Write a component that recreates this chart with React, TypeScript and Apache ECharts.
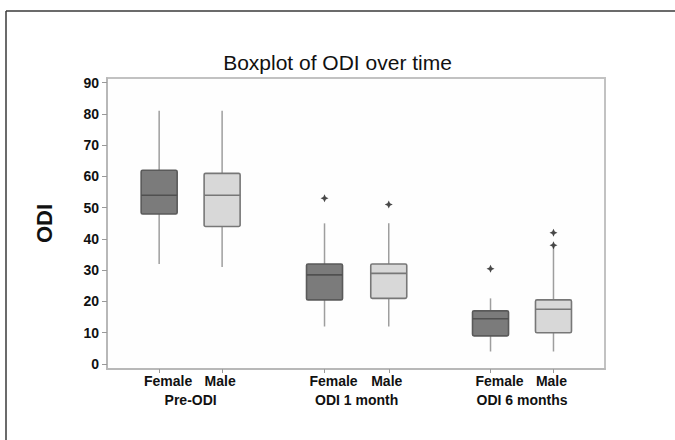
import React, { useEffect, useRef } from 'react';
import * as echarts from 'echarts';

const groupLabels = ['Pre-ODI', 'ODI 1 month', 'ODI 6 months'];
const sexLabels = ['Female', 'Male', 'Female', 'Male', 'Female', 'Male'];
const boxPositions = [0.82, 1.81, 3.42, 4.43, 6.03, 7.02];
const groupPositions = [1.315, 3.925, 6.525];
const whiskerLow = [32, 31, 12, 12, 4, 4];
const q1 = [48, 44, 20.5, 21, 9, 10];
const median = [54, 54, 28.5, 29, 14.5, 17.5];
const q3 = [62, 61, 32, 32, 17, 20.5];
const whiskerHigh = [81, 81, 45, 45, 21, 37.5];
const outlierX = [3.42, 4.43, 6.03, 7.02, 7.02];
const outlierY = [53, 51, 30.5, 42, 38];
const yTicks = [0, 10, 20, 30, 40, 50, 60, 70, 80, 90];

const FONT = '"Liberation Sans", Arial, Helvetica, sans-serif';
const X_MIN = 0;
const X_MAX = 7.83;

function findIndex(arr: number[], v: number) {
  for (let i = 0; i < arr.length; i++) if (Math.abs(arr[i] - v) < 1e-6) return i;
  return -1;
}

export default function App() {
  const ref = useRef<HTMLDivElement>(null);
  useEffect(() => {
    if (!ref.current) return;
    const chart = echarts.init(ref.current, undefined, { renderer: 'svg' });
    const boxData = boxPositions.map((x, i) => [x, whiskerLow[i], q1[i], median[i], q3[i], whiskerHigh[i], i % 2]);
    const outliers = outlierX.map((x, i) => [x, outlierY[i]]);
    chart.setOption({
      animation: false,
      backgroundColor: '#ffffff',
      title: {
        text: 'Boxplot of ODI over time',
        left: 'center',
        top: 47,
        textStyle: { fontFamily: FONT, fontSize: 21, fontWeight: 'normal', color: '#111' },
      },
      graphic: [
        {
          type: 'line',
          shape: { x1: 6, y1: 11, x2: 675, y2: 11 },
          style: { stroke: '#3a3a3a', lineWidth: 1.5 },
          silent: true,
        },
        {
          type: 'line',
          shape: { x1: 6, y1: 11, x2: 6, y2: 440 },
          style: { stroke: '#3a3a3a', lineWidth: 1.5 },
          silent: true,
        },
      ],
      grid: {
        left: 107,
        top: 78,
        right: 70,
        bottom: 71,
        show: true,
        borderColor: '#c2c2c2',
        borderWidth: 2,
        backgroundColor: '#fefefe',
      },
      xAxis: [
        {
          type: 'value',
          min: X_MIN,
          max: X_MAX,
          position: 'bottom',
          axisLine: { show: true, onZero: false, lineStyle: { color: '#b8b8b8', width: 2 } },
          axisTick: { show: true, length: 4, customValues: boxPositions, lineStyle: { color: '#999' } },
          splitLine: { show: false },
          axisLabel: {
            customValues: boxPositions,
            margin: 5,
            fontFamily: FONT,
            fontSize: 14,
            fontWeight: 'bold',
            color: '#111',
            formatter: (v: number) => {
              const i = findIndex(boxPositions, v);
              if (i < 0) return '';
              return i % 2 === 0 ? '{f|' + sexLabels[i] + '}' : '{m|' + sexLabels[i] + '}';
            },
            rich: {
              f: { fontFamily: FONT, fontSize: 14, fontWeight: 'bold', color: '#111', padding: [0, 0, 0, 18] },
              m: { fontFamily: FONT, fontSize: 14, fontWeight: 'bold', color: '#111', padding: [0, 4, 0, 0] },
            },
          },
        },
        {
          type: 'value',
          min: X_MIN,
          max: X_MAX,
          position: 'bottom',
          axisLine: { show: false },
          axisTick: { show: false },
          splitLine: { show: false },
          axisLabel: {
            customValues: groupPositions,
            margin: 24,
            fontFamily: FONT,
            fontSize: 14,
            fontWeight: 'bold',
            color: '#111',
            formatter: (v: number) => {
              const i = findIndex(groupPositions, v);
              return i < 0 ? '' : groupLabels[i];
            },
          },
        },
      ],
      yAxis: {
        type: 'value',
        min: -1.6,
        max: 91.5,
        name: 'ODI',
        nameLocation: 'middle',
        nameGap: 52,
        nameTextStyle: { fontFamily: FONT, fontSize: 22, fontWeight: 'bold', color: '#111' },
        axisLine: { show: true, lineStyle: { color: '#b8b8b8', width: 2 } },
        axisTick: { show: true, length: 5, customValues: yTicks, lineStyle: { color: '#999' } },
        splitLine: { show: false },
        axisLabel: {
          customValues: yTicks,
          margin: 8,
          fontFamily: FONT,
          fontSize: 14,
          fontWeight: 'bold',
          color: '#111',
        },
      },
      series: [
        {
          type: 'custom',
          xAxisIndex: 0,
          yAxisIndex: 0,
          data: boxData,
          encode: { x: 0, y: [1, 2, 3, 4, 5] },
          renderItem: (params: any, api: any) => {
            const x = api.value(0);
            const lo = api.coord([x, api.value(1)]);
            const b1 = api.coord([x, api.value(2)]);
            const md = api.coord([x, api.value(3)]);
            const b3 = api.coord([x, api.value(4)]);
            const hi = api.coord([x, api.value(5)]);
            const female = api.value(6) === 0;
            const half = 18;
            const cx = lo[0];
            const whisker = { stroke: '#9e9e9e', lineWidth: 1.5 };
            return {
              type: 'group',
              children: [
                { type: 'line', shape: { x1: cx, y1: hi[1], x2: cx, y2: b3[1] }, style: whisker },
                { type: 'line', shape: { x1: cx, y1: b1[1], x2: cx, y2: lo[1] }, style: whisker },
                {
                  type: 'rect',
                  shape: { x: cx - half, y: b3[1], width: half * 2, height: b1[1] - b3[1], r: 1.5 },
                  style: {
                    fill: female ? '#7b7b7b' : '#d8d8d8',
                    stroke: female ? '#5a5a5a' : '#777777',
                    lineWidth: 1.6,
                  },
                },
                {
                  type: 'line',
                  shape: { x1: cx - half, y1: md[1], x2: cx + half, y2: md[1] },
                  style: { stroke: female ? '#505050' : '#777777', lineWidth: 1.6 },
                },
              ],
            };
          },
        },
        {
          type: 'scatter',
          xAxisIndex: 0,
          yAxisIndex: 0,
          data: outliers,
          symbol: 'path://M0,-5 L1.6,-1.6 L5,0 L1.6,1.6 L0,5 L-1.6,1.6 L-5,0 L-1.6,-1.6 Z',
          symbolSize: 8,
          itemStyle: { color: '#1a1a1a' },
        },
      ],
    });
    return () => chart.dispose();
  }, []);
  return <div ref={ref} style={{ position: 'absolute', left: 0, top: 0, width: 675, height: 440 }} />;
}
